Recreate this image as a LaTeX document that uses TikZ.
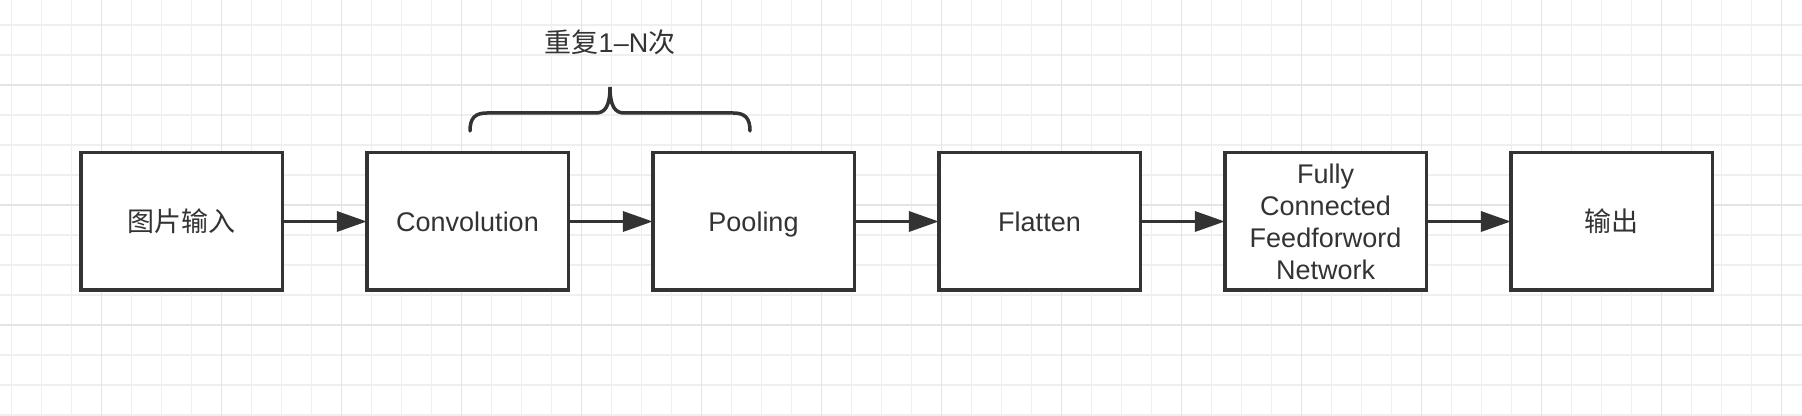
\documentclass[tikz,border=0pt]{standalone}
\usepackage{fontspec}
\setmainfont{Liberation Sans}
\newfontfamily\cjk{Noto Sans CJK SC}
\usetikzlibrary{arrows.meta}
\definecolor{ink}{HTML}{333333}
\definecolor{gridminor}{HTML}{EFEFEF}
\definecolor{gridmajor}{HTML}{E4E4E4}
\begin{document}
\begin{tikzpicture}[x=0.5pt,y=-0.5pt,
  box/.style={draw=ink, line width=1.75pt, fill=white, minimum width=100.75pt, minimum height=68.75pt,
    inner sep=0pt, text=ink, font=\fontsize{13.5}{16}\selectfont, align=center},
  oneline/.style={text height=9.7pt, text depth=0pt},
  conn/.style={draw=ink, line width=1.75pt, -{Triangle[length=15pt,width=10pt]}, shorten >=-0.9pt},
  brace/.style={draw=ink, line width=1.75pt, line cap=round},
  label/.style={text=ink, font=\fontsize{13.5}{16}\selectfont}]
\useasboundingbox (0,0) rectangle (1802,416);
\fill[white] (0,0) rectangle (1802,416);
% grid
\foreach \i in {0,...,60} \draw[gridminor, line width=0.6pt] (11.5+30*\i,0) -- (11.5+30*\i,416);
\foreach \i in {0,...,14} \draw[gridminor, line width=0.6pt] (0,25+30*\i) -- (1802,25+30*\i);
\foreach \i in {0,...,14} \draw[gridmajor, line width=0.6pt] (101.5+120*\i,0) -- (101.5+120*\i,416);
\foreach \i in {0,...,3} \draw[gridmajor, line width=0.6pt] (0,85+120*\i) -- (1802,85+120*\i);
% boxes
\node[box, oneline] (in) at (181.5,221.5) {\cjk 图片输入};
\node[box, oneline] (conv) at (467.5,221.5) {Convolution};
\node[box, oneline] (pool) at (753.5,221.5) {Pooling};
\node[box, oneline] (flat) at (1039.5,221.5) {Flatten};
\node[box] (fc) at (1325.5,221.5) {Fully\\Connected\\Feedforword\\Network};
\node[box, oneline] (out) at (1611.5,221.5) {\cjk 输出};
% connectors
\draw[conn] (in) -- (conv);
\draw[conn] (conv) -- (pool);
\draw[conn] (pool) -- (flat);
\draw[conn] (flat) -- (fc);
\draw[conn] (fc) -- (out);
% brace
\coordinate (bl) at (470,131);
\coordinate (tip) at (610,87);
\coordinate (br) at (750,131);
\draw[brace] (bl) .. controls (470,118) and (475,113) .. (487,113) -- (596,113)
  .. controls (605,113) and (610,106) .. (tip)
  .. controls (610,106) and (615,113) .. (624,113) -- (733,113)
  .. controls (745,113) and (750,118) .. (br);
\node[label] (rep) at (610,42) {{\cjk 重复}1–N{\cjk 次}};
\end{tikzpicture}
\end{document}
